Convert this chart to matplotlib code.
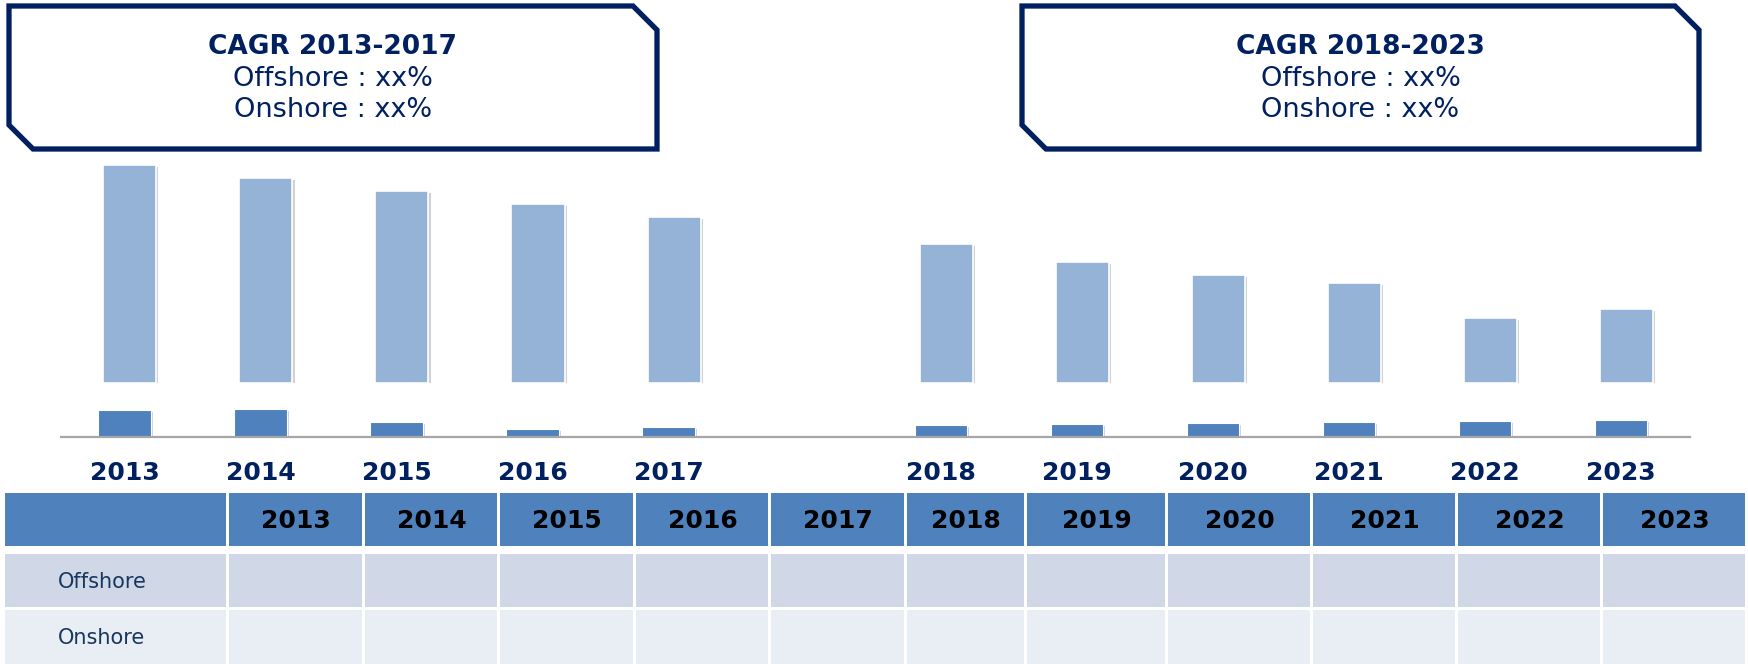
import matplotlib
matplotlib.use("Agg")
import matplotlib.pyplot as plt
from matplotlib.patches import Polygon, Rectangle
import matplotlib.patheffects as pe

# data (arbitrary units)
years = ["2013", "2014", "2015", "2016", "2017",
         "2018", "2019", "2020", "2021", "2022", "2023"]
positions = [0, 1, 2, 3, 4, 6, 7, 8, 9, 10, 11]
onshore = [218, 205, 191.5, 178.8, 165.3, 138.5, 121, 108, 99.5, 64.2, 73.3]
offshore = [26.8, 27.2, 14.2, 7.5, 9.8, 11.2, 12.5, 13.5, 14.5, 15.5, 16.6]

table_years = ["2013", "2014", "2015", "2016", "2017",
               "2018", "2019", "2020", "2021", "2022", "2023"]
row_labels = ["Offshore", "Onshore"]
cagr_titles = ["CAGR 2013-2017", "CAGR 2018-2023"]
cagr_lines = ["Offshore : xx%", "Onshore : xx%"]

NAVY = "#002060"
LIGHT = "#95B3D7"
DARK = "#4F81BD"
HEAD = "#4F81BD"
BAND1 = "#D0D8E8"
BAND2 = "#E9EDF4"

W, H = 1749, 664
fig = plt.figure(figsize=(W / 100, H / 100), dpi=100)

# overlay axes in pixel coordinates for boxes and table
ov = fig.add_axes([0, 0, 1, 1])
ov.set_xlim(0, W)
ov.set_ylim(H, 0)
ov.axis("off")

# CAGR boxes with cut corners
boxes = [(9, 657), (1022, 1699)]
top, bot, cut = 6, 149, 24
for (x0, x1), title in zip(boxes, cagr_titles):
    pts = [(x0, top), (x1 - cut, top), (x1, top + cut), (x1, bot),
           (x0 + cut, bot), (x0, bot - cut)]
    ov.add_patch(Polygon(pts, closed=True, facecolor="white",
                         edgecolor=NAVY, linewidth=3.8, joinstyle="miter"))
    xc = (x0 + x1) / 2
    ov.text(xc, 47, title, ha="center", va="center", fontsize=19,
            fontweight="bold", color=NAVY)
    ov.text(xc, 79, cagr_lines[0], ha="center", va="center", fontsize=19.5,
            color=NAVY)
    ov.text(xc, 110, cagr_lines[1], ha="center", va="center", fontsize=19.5,
            color=NAVY)

# table below the chart
col_edges = [4, 228, 364, 499, 635, 770, 906, 1026, 1167, 1312, 1457, 1602, 1747]
rows = [(493, 546, HEAD), (554, 607, BAND1), (610, 664, BAND2)]
gap = 1.5
for r, (y0, y1, col) in enumerate(rows):
    for c in range(len(col_edges) - 1):
        xa, xb = col_edges[c], col_edges[c + 1]
        ov.add_patch(Rectangle((xa + gap, y0), xb - xa - 2 * gap, y1 - y0,
                               facecolor=col, edgecolor="none"))
        if r == 0 and c > 0:
            ov.text((xa + xb) / 2, (y0 + y1) / 2 + 1, table_years[c - 1],
                    ha="center", va="center", fontsize=18,
                    fontweight="bold", color="black")
    if r > 0:
        ov.text(58, (y0 + y1) / 2 + 1, row_labels[r - 1], ha="left",
                va="center", fontsize=15, color="#17375E")

# bar axes
left = 61 / W
width = (1690 - 61) / W
xlim = (-0.466, 11.507)
shift = 0.04

ax_dark = fig.add_axes([left, (H - 436.5) / H, width, 50 / H])
ax_dark.patch.set_alpha(0)
ax_dark.bar(positions, offshore, width=0.385, color=DARK, edgecolor="white",
            linewidth=0.8,
            path_effects=[pe.SimplePatchShadow(offset=(1.5, -1.5),
                                               shadow_rgbFace="gray", alpha=0.35),
                          pe.Normal()])
ax_dark.set_xlim(*xlim)
ax_dark.set_ylim(0, 50)
ax_dark.set_yticks([])
ax_dark.set_xticks([])
for s in ["top", "right", "left"]:
    ax_dark.spines[s].set_visible(False)
ax_dark.spines["bottom"].set_color("#A6A6A6")
ax_dark.spines["bottom"].set_linewidth(1.6)
for p, y in zip(positions, years):
    ax_dark.annotate(y, xy=(p, 0), xycoords=("data", "axes fraction"),
                     xytext=(0, -26.3), textcoords="offset points",
                     ha="center", va="center", fontsize=18,
                     fontweight="bold", color=NAVY)

ax_light = fig.add_axes([left, (H - 382.5) / H, width, 232.5 / H])
ax_light.patch.set_alpha(0)
ax_light.bar(positions, onshore, width=0.39, color=LIGHT, edgecolor="white",
             linewidth=1.2,
             path_effects=[pe.SimplePatchShadow(offset=(1.5, -1.5),
                                                shadow_rgbFace="gray", alpha=0.35),
                           pe.Normal()])
ax_light.set_xlim(xlim[0] - shift, xlim[1] - shift)
ax_light.set_ylim(0, 232.5)
ax_light.axis("off")

fig.savefig("out.png", dpi=100)
